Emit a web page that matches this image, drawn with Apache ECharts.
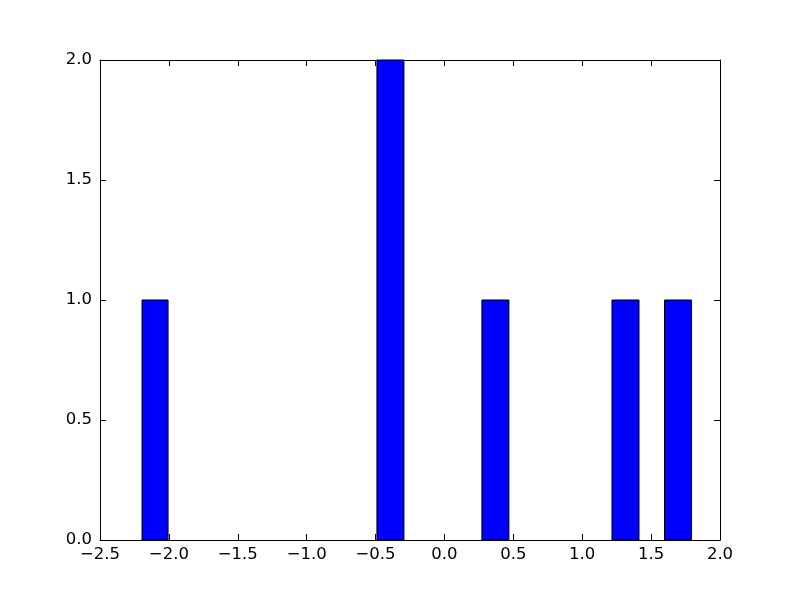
<!DOCTYPE html>
<html>
<head>
<meta charset="utf-8">
<script src="https://cdn.jsdelivr.net/npm/echarts@6/dist/echarts.min.js"></script>
<style>html,body{margin:0;padding:0;background:#fff}#c{width:800px;height:600px}</style>
</head>
<body>
<div id="c"></div>
<script>
// Histogram bins (left edge, right edge) and counts
var binLeft  = [-2.195, -0.490, 0.272, 1.216, 1.597];
var binRight = [-2.006, -0.294, 0.468, 1.412, 1.793];
var counts   = [1, 2, 1, 1, 1];
var xTicks = { min: -2.5, max: 2.0, interval: 0.5 };
var yTicks = { min: 0, max: 2.0, interval: 0.5 };

var data = binLeft.map(function (l, i) { return [l, binRight[i], counts[i]]; });

function fmt(v) {
  var s = Math.abs(v).toFixed(1);
  return (v < 0 ? '\u2212' : '') + s;
}

var font = 'DejaVu Sans';
var fs = 16.5;
var chart = echarts.init(document.getElementById('c'), null, { renderer: 'canvas' });
var axisCommon = {
  axisLine: { show: true, onZero: false, lineStyle: { color: '#000', width: 1 } },
  axisTick: { show: true, inside: true, length: 6, lineStyle: { color: '#000', width: 1 } },
  splitLine: { show: false }
};
chart.setOption({
  animation: false,
  backgroundColor: '#fff',
  grid: { left: 100, right: 80, top: 60, bottom: 60 },
  xAxis: [
    Object.assign({
      type: 'value', position: 'bottom', min: xTicks.min, max: xTicks.max, interval: xTicks.interval,
      axisLabel: { formatter: fmt, color: '#000', fontFamily: font, fontSize: fs, margin: 6 }
    }, axisCommon),
    Object.assign({
      type: 'value', position: 'top', min: xTicks.min, max: xTicks.max, interval: xTicks.interval,
      axisLabel: { show: false }
    }, axisCommon)
  ],
  yAxis: [
    Object.assign({
      type: 'value', position: 'left', min: yTicks.min, max: yTicks.max, interval: yTicks.interval,
      axisLabel: { formatter: fmt, color: '#000', fontFamily: font, fontSize: fs, margin: 8 }
    }, axisCommon),
    Object.assign({
      type: 'value', position: 'right', min: yTicks.min, max: yTicks.max, interval: yTicks.interval,
      axisLabel: { show: false }
    }, axisCommon)
  ],
  series: [{
    type: 'custom',
    xAxisIndex: 0,
    yAxisIndex: 0,
    data: data,
    encode: { x: [0, 1], y: 2 },
    renderItem: function (params, api) {
      var p0 = api.coord([api.value(0), api.value(2)]);
      var p1 = api.coord([api.value(1), 0]);
      return {
        type: 'rect',
        shape: { x: p0[0], y: p0[1], width: p1[0] - p0[0], height: p1[1] - p0[1] },
        style: { fill: '#0000ff', stroke: '#000', lineWidth: 1 }
      };
    }
  }]
});
</script>
</body>
</html>
